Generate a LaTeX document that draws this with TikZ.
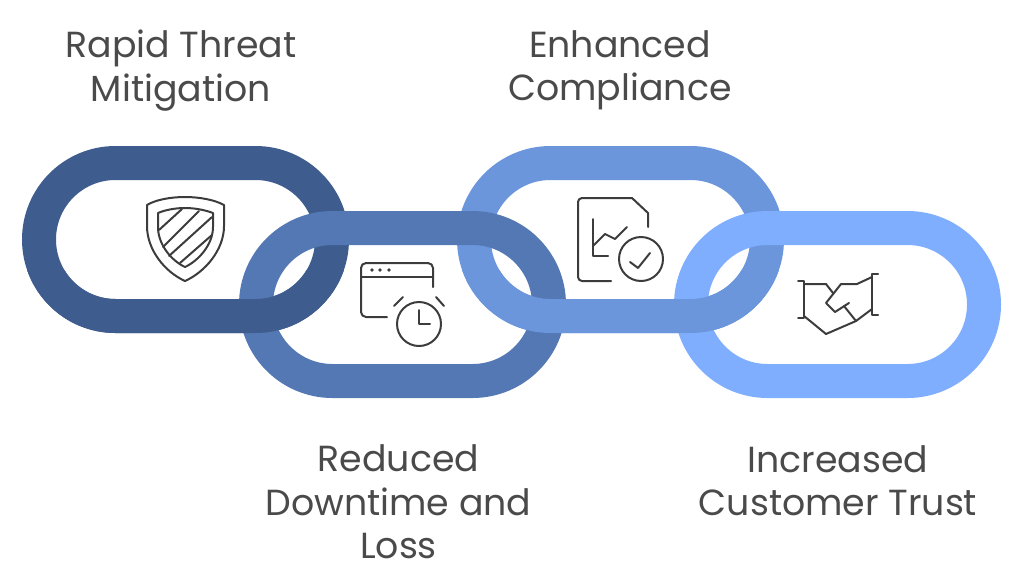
\documentclass[tikz,border=0pt]{standalone}
\usepackage{fontspec}
\setmainfont{Poppins}
\definecolor{cA}{HTML}{3E5C8E}
\definecolor{cB}{HTML}{5478B3}
\definecolor{cC}{HTML}{6B96DC}
\definecolor{cD}{HTML}{80AEFF}
\definecolor{ink}{HTML}{4A4A4A}
\definecolor{icon}{HTML}{3C3C3C}
\newcommand{\linkat}[2]{\draw[linkstroke,#2] (#1,163) rectangle ++(293,153);}
\newcommand{\linkbt}[2]{\draw[linkstroke,#2] (#1,228) rectangle ++(293,153);}
\tikzset{
  x=1pt,y=-1pt,
  linkstroke/.style={line width=34pt,rounded corners=76.5pt},
  iconline/.style={draw=icon,line width=2pt,line cap=round,line join=round},
  label/.style={text=ink,align=center,font=\fontsize{36.3}{43.5}\selectfont,inner sep=0pt},
}
\begin{document}
\begin{tikzpicture}
\useasboundingbox (0,0) rectangle (1024,587);
% links, under layer
\linkat{39}{cA}
\linkat{474}{cC}
\linkbt{256}{cB}
\linkbt{691}{cD}
% lower halves of links 1 and 3 pass over their neighbours
\begin{scope}
  \clip (0,270) rectangle (1024,340);
  \linkat{39}{cA}
  \linkat{474}{cC}
\end{scope}
% shield
\draw[iconline] (185,197) .. controls (170,197) and (155,200) .. (147,205) -- (147,226) .. controls (147,250) and (165,272) .. (185,281) .. controls (205,272) and (224,250) .. (224,226) -- (224,205) .. controls (215,200) and (200,197) .. (185,197) -- cycle;
\draw[iconline] (185,208) .. controls (175,208) and (165,210) .. (158,213) -- (158,227) .. controls (158,245) and (172,261) .. (185,267) .. controls (198,261) and (213,245) .. (213,227) -- (213,213) .. controls (205,210) and (195,208) .. (185,208) -- cycle;
\draw[iconline] (159,230) -- (182,209);
\draw[iconline] (163,247) -- (199,211);
\draw[iconline] (169,256) -- (212,217);
\draw[iconline] (180,263) -- (212,235);
% window and clock
\draw[iconline,rounded corners=5pt] (387,317) -- (361,317) -- (361,263) -- (433,263) -- (433,287);
\draw[iconline] (361,277) -- (433,277);
\fill[icon] (372,270) circle (1.9) (380,270) circle (1.9) (389,270) circle (1.9);
\draw[iconline] (419,324) circle (22);
\draw[iconline] (419,310) -- (419,324) -- (430,324);
\draw[iconline] (394,306) -- (403,297);
\draw[iconline] (436,297) -- (444,306);
% document and check
\draw[iconline,rounded corners=4pt] (611,281) -- (578,281) -- (578,198) -- (632,198);
\draw[iconline] (632,198) -- (648,213) -- (648,227);
\draw[iconline] (593,219) -- (593,256) -- (608,256);
\draw[iconline] (593,246) -- (605,234) -- (615,239) -- (627,227);
\draw[iconline] (641,259) circle (22);
\draw[iconline] (630,262) -- (638,268) -- (650,253);
% handshake
\draw[iconline] (798,281) -- (804,281) -- (804,318) -- (798,318);
\draw[iconline] (878,274) -- (872,274) -- (872,315) -- (878,315);
\draw[iconline] (804,284) -- (826,284) -- (833,293);
\draw[iconline] (872,277) -- (857,284) -- (841,284) -- (826,303) -- (835,312) -- (849,303);
\draw[iconline] (844,306) -- (856,321) -- (872,309);
\draw[iconline] (856,321) -- (826,334) -- (804,316);
% labels
\node[label] (t1) at (181,70.5) {Rapid Threat\\Mitigation};
\node[label] (t2) at (398.5,502) {Reduced\\Downtime and\\Loss};
\node[label] (t3) at (620,70.5) {Enhanced\\Compliance};
\node[label] (t4) at (838,480.5) {Increased\\Customer Trust};
\end{tikzpicture}
\end{document}
